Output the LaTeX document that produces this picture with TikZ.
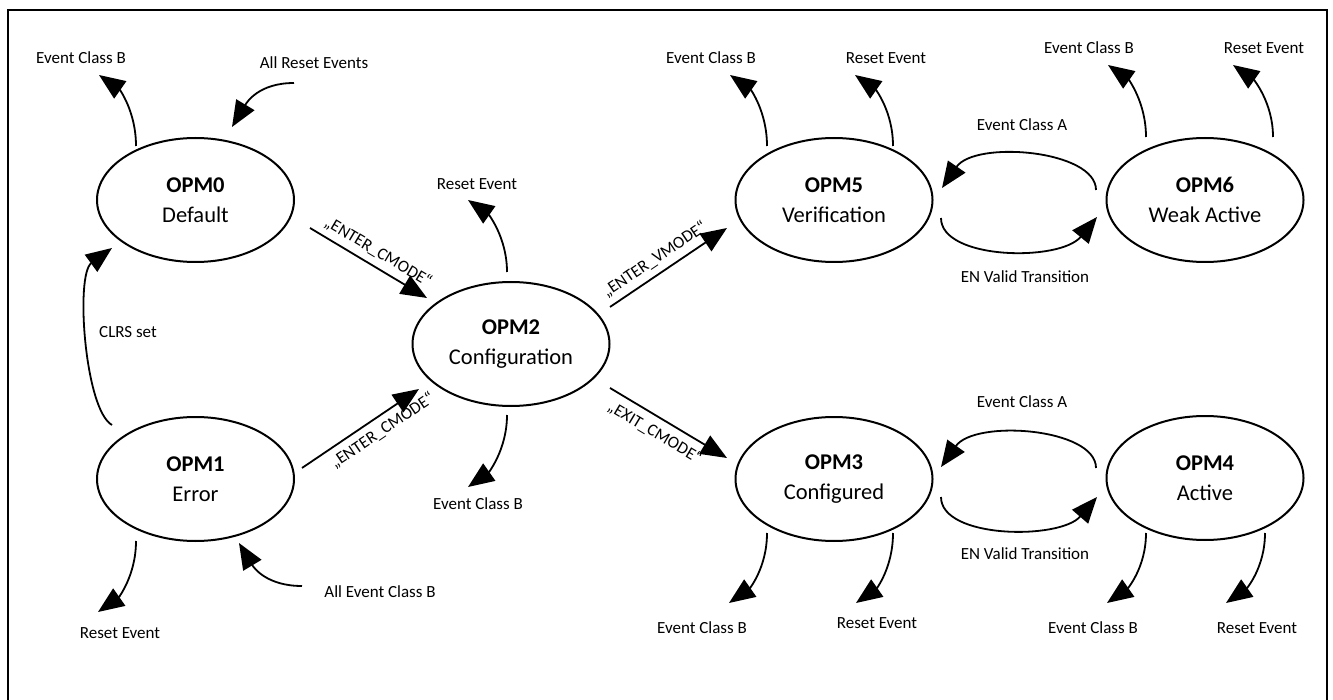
\documentclass[tikz,border=0pt]{standalone}
\usepackage{fontspec}
\setmainfont{Carlito}
\usetikzlibrary{arrows.meta,calc,shapes.geometric}
\begin{document}
\begin{tikzpicture}[x=1pt,y=-1pt,
  state/.style={ellipse,draw,line width=2pt,minimum width=197pt,minimum height=124pt,inner sep=0pt,align=center,font=\fontsize{22.5}{30}\selectfont},
  lbl/.style={inner sep=0pt,font=\fontsize{17}{20}\selectfont},
  qlbl/.style={inner sep=0pt,font=\fontsize{17}{20}\selectfont,sloped},
  arr/.style={line width=1.8pt,-{Triangle[length=26pt,width=21pt]}},
  frame/.style={line width=1.5pt}
]
\useasboundingbox (0,0) rectangle (1333,700);
\draw[frame] (8,700) -- (8,10) -- (1327,10) -- (1327,700);

% states
\node[state] (opm0) at (195.5,200) {\textbf{OPM0}\\Default};
\node[state] (opm1) at (195.5,479) {\textbf{OPM1}\\Error};
\node[state] (opm2) at (511,344) {\textbf{OPM2}\\Configuration};
\node[state] (opm5) at (834,200) {\textbf{OPM5}\\Verification};
\node[state] (opm6) at (1205,200) {\textbf{OPM6}\\Weak Active};
\node[state] (opm3) at (834,479) {\textbf{OPM3}\\Configured};
\node[state] (opm4) at (1205,478) {\textbf{OPM4}\\Active};

% free ends
\coordinate (t0b) at (99,75);
\coordinate (s0r) at (294,83);
\coordinate (t1r) at (98,612);
\coordinate (s1b) at (302,586);
\coordinate (t2r) at (468,200);
\coordinate (t2b) at (468,487);
\coordinate (t5b) at (730,75);
\coordinate (t5r) at (855,75);
\coordinate (t6b) at (1108,65);
\coordinate (t6r) at (1233,65);
\coordinate (t3b) at (729,603);
\coordinate (t3r) at (856,603);
\coordinate (t4b) at (1107,603);
\coordinate (t4r) at (1226,603);

% labels
\node[lbl] (l0b) at (81,58) {Event Class B};
\node[lbl] (l0r) at (314,63) {All Reset Events};
\node[lbl] (lclrs) at (128,332) {CLRS set};
\node[lbl] (l1r) at (120,633) {Reset Event};
\node[lbl] (l1b) at (380,592) {All Event Class B};
\node[lbl] (l2r) at (477,184) {Reset Event};
\node[lbl] (l2b) at (478,504) {Event Class B};
\node[lbl] (l5b) at (711,58) {Event Class B};
\node[lbl] (l5r) at (886,58) {Reset Event};
\node[lbl] (l6b) at (1089,48) {Event Class B};
\node[lbl] (l6r) at (1264,48) {Reset Event};
\node[lbl] (lA1) at (1022,125) {Event Class A};
\node[lbl] (lEN1) at (1025,277) {EN Valid Transition};
\node[lbl] (lA2) at (1022,402) {Event Class A};
\node[lbl] (lEN2) at (1025,554) {EN Valid Transition};
\node[lbl] (l3b) at (702,628) {Event Class B};
\node[lbl] (l3r) at (877,623) {Reset Event};
\node[lbl] (l4b) at (1093,628) {Event Class B};
\node[lbl] (l4r) at (1257,628) {Reset Event};

% straight transitions
\draw[arr] ($(opm0)+(114.5,28)$) -- node[qlbl,above=6pt,pos=0.52] (q02) {„ENTER\_CMODE“} ($(opm2)+(-84,-46)$);
\draw[arr] ($(opm1)+(106.5,-11)$) -- node[qlbl,below=6pt,pos=0.62] (q12) {„ENTER\_CMODE“} ($(opm2)+(-92,45)$);
\draw[arr] ($(opm2)+(99,-37)$) -- node[qlbl,above=6pt,pos=0.45] (q25) {„ENTER\_VMODE“} ($(opm5)+(-107,28)$);
\draw[arr] ($(opm2)+(99,44)$) -- node[qlbl,below=7pt,pos=0.45] (q23) {„EXIT\_CMODE“} ($(opm3)+(-107,-21)$);

% loops between states
\draw[arr] ($(opm6)+(-109,-10)$) .. controls ($(opm6)+(-109,-50)$) and ($(opm5)+(141,-60)$) .. ($(opm5)+(108,-12)$);
\draw[arr] ($(opm5)+(107,18)$) .. controls ($(opm5)+(107,60)$) and ($(opm6)+(-145,62)$) .. ($(opm6)+(-108,17)$);
\draw[arr] ($(opm4)+(-109,-10)$) .. controls ($(opm4)+(-109,-50)$) and ($(opm3)+(141,-60)$) .. ($(opm3)+(107,-12)$);
\draw[arr] ($(opm3)+(107,18)$) .. controls ($(opm3)+(107,60)$) and ($(opm4)+(-145,62)$) .. ($(opm4)+(-108,19)$);

% CLRS set
\draw[arr] ($(opm1)+(-83.5,-54)$) .. controls +(-27,-15) and +(-37,27) .. ($(opm0)+(-83.5,48)$);

% incoming
\draw[arr] (s0r) .. controls +(-35,0) and +(15,-25) .. ($(opm0)+(36.5,-73)$);
\draw[arr] (s1b) .. controls +(-35,0) and +(15,25) .. ($(opm1)+(43.5,64)$);

% outgoing up
\draw[arr] ($(opm0)+(-59.5,-54)$) .. controls +(0,-35) and +(20,14) .. (t0b);
\draw[arr] ($(opm2)+(-4,-72)$) .. controls +(0,-35) and +(20,14) .. (t2r);
\draw[arr] ($(opm5)+(-67,-54)$) .. controls +(0,-35) and +(20,14) .. (t5b);
\draw[arr] ($(opm5)+(59,-54)$) .. controls +(0,-35) and +(20,14) .. (t5r);
\draw[arr] ($(opm6)+(-59,-63)$) .. controls +(0,-35) and +(20,14) .. (t6b);
\draw[arr] ($(opm6)+(68,-63)$) .. controls +(0,-35) and +(20,14) .. (t6r);

% outgoing down
\draw[arr] ($(opm1)+(-59.5,62)$) .. controls +(0,35) and +(20,-14) .. (t1r);
\draw[arr] ($(opm2)+(-4,71)$) .. controls +(0,35) and +(20,-14) .. (t2b);
\draw[arr] ($(opm3)+(-67,54)$) .. controls +(0,35) and +(20,-14) .. (t3b);
\draw[arr] ($(opm3)+(59,54)$) .. controls +(0,35) and +(20,-14) .. (t3r);
\draw[arr] ($(opm4)+(-59,55)$) .. controls +(0,35) and +(20,-14) .. (t4b);
\draw[arr] ($(opm4)+(60,55)$) .. controls +(0,35) and +(20,-14) .. (t4r);
\end{tikzpicture}
\end{document}
